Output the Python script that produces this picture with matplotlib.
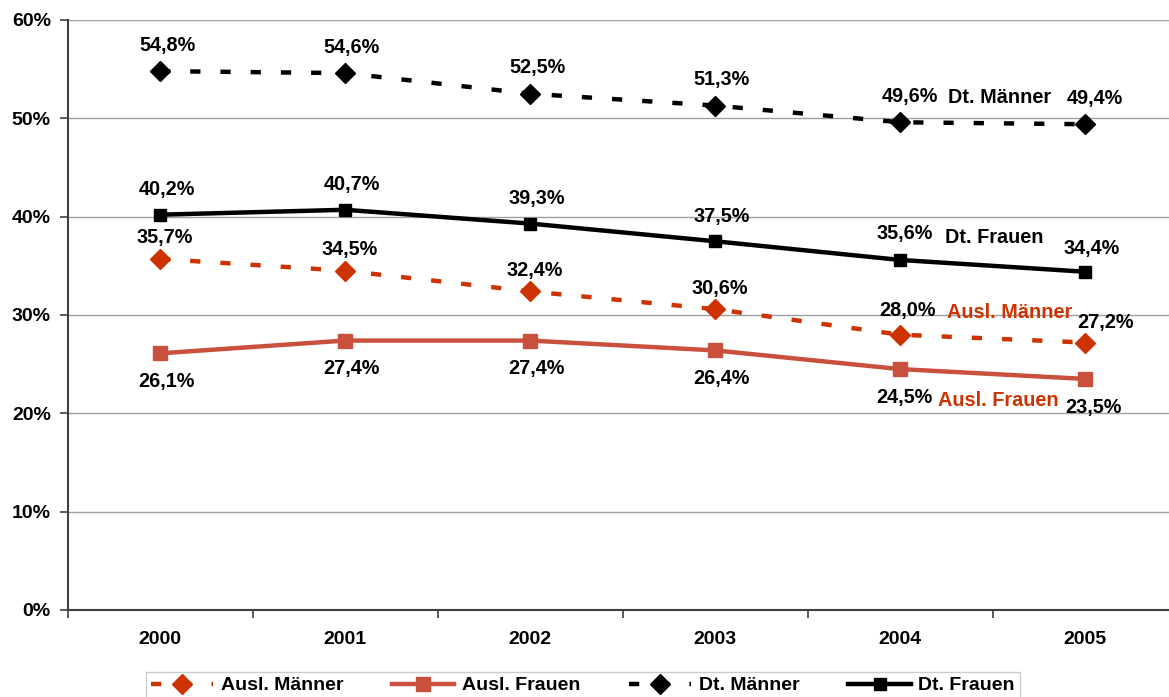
import numpy as np
import matplotlib.pyplot as plt
from matplotlib.ticker import FixedLocator

plt.rcParams['font.family'] = ['Liberation Sans', 'DejaVu Sans']
plt.rcParams['font.weight'] = 'bold'

# Data
years = ["2000", "2001", "2002", "2003", "2004", "2005"]
ausl_maenner = [35.7, 34.5, 32.4, 30.6, 28.0, 27.2]
ausl_frauen = [26.1, 27.4, 27.4, 26.4, 24.5, 23.5]
dt_maenner = [54.8, 54.6, 52.5, 51.3, 49.6, 49.4]
dt_frauen = [40.2, 40.7, 39.3, 37.5, 35.6, 34.4]

red = "#CC3300"
red2 = "#C8503C"

x = np.arange(len(years))

fig = plt.figure(figsize=(11.69, 6.97), dpi=100)
ax = fig.add_axes([67.5 / 1169, 1 - 610 / 697, 1110 / 1169, 590 / 697])

ax.plot(x, ausl_maenner, color=red, lw=3.2, dashes=(2.3, 4.5), marker="D", ms=10,
        label="Ausl. Männer")
ax.plot(x, ausl_frauen, color=red2, lw=3.2, marker="s", ms=10, label="Ausl. Frauen")
ax.plot(x, dt_maenner, color="black", lw=3.2, dashes=(2.3, 4.5), marker="D", ms=10,
        label="Dt. Männer")
ax.plot(x, dt_frauen, color="black", lw=3.2, marker="s", ms=9, label="Dt. Frauen")

def fmt(v):
    return f"{v:.1f}%".replace(".", ",")

fs = 14.3
# label offsets in pixels (dx, dy) per series
off_dm = [(7, 26)] * 4 + [(10, 26), (10, 26)]
off_df = [(7, 25)] * 4 + [(5, 26), (7, 23)]
off_am = [(5, 21)] * 4 + [(7, 24), (21, 20)]
off_af = [(6, -28)] * 4 + [(4, -28), (8, -29)]

for i in x:
    for vals, offs in [(dt_maenner, off_dm), (dt_frauen, off_df),
                       (ausl_maenner, off_am), (ausl_frauen, off_af)]:
        ax.annotate(fmt(vals[i]), (i, vals[i]), xytext=offs[i],
                    textcoords="offset pixels", ha="center", va="center", fontsize=fs)

# series names
ax.text(4.54, 52.07, "Dt. Männer", ha="center", va="center", fontsize=fs)
ax.text(4.51, 37.9, "Dt. Frauen", ha="center", va="center", fontsize=fs)
ax.text(4.59, 30.3, "Ausl. Männer", ha="center", va="center", fontsize=fs, color=red)
ax.text(4.53, 21.3, "Ausl. Frauen", ha="center", va="center", fontsize=fs, color=red)

ax.set_xlim(-0.5, 5.5)
ax.set_ylim(0, 60)
ax.set_yticks(np.arange(0, 61, 10))
ax.set_yticklabels([f"{v}%" for v in range(0, 61, 10)])
ax.set_xticks(x)
ax.set_xticklabels(years)
ax.xaxis.set_minor_locator(FixedLocator(np.arange(-0.5, 6, 1)))
ax.tick_params(axis="x", which="major", length=0, pad=15, labelsize=14)
ax.tick_params(axis="x", which="minor", length=6, width=1.2, color="#404040")
ax.tick_params(axis="y", length=6, width=1.2, color="#404040", pad=6, labelsize=14)

ax.grid(axis="y", color="#A0A0A0", lw=1)
ax.set_axisbelow(True)
for s in ["top", "right"]:
    ax.spines[s].set_visible(False)
for s in ["left", "bottom"]:
    ax.spines[s].set_color("#404040")
    ax.spines[s].set_linewidth(1.5)

fig.legend(loc="upper center", bbox_to_anchor=(583 / 1169, 1 - 672 / 697), ncol=4,
           fontsize=14, frameon=True, fancybox=False, edgecolor="#C0C0C0",
           handlelength=3.2, handletextpad=0.4, columnspacing=2.5, borderpad=0.25,
           borderaxespad=0)

plt.savefig("out.png", dpi=100)
